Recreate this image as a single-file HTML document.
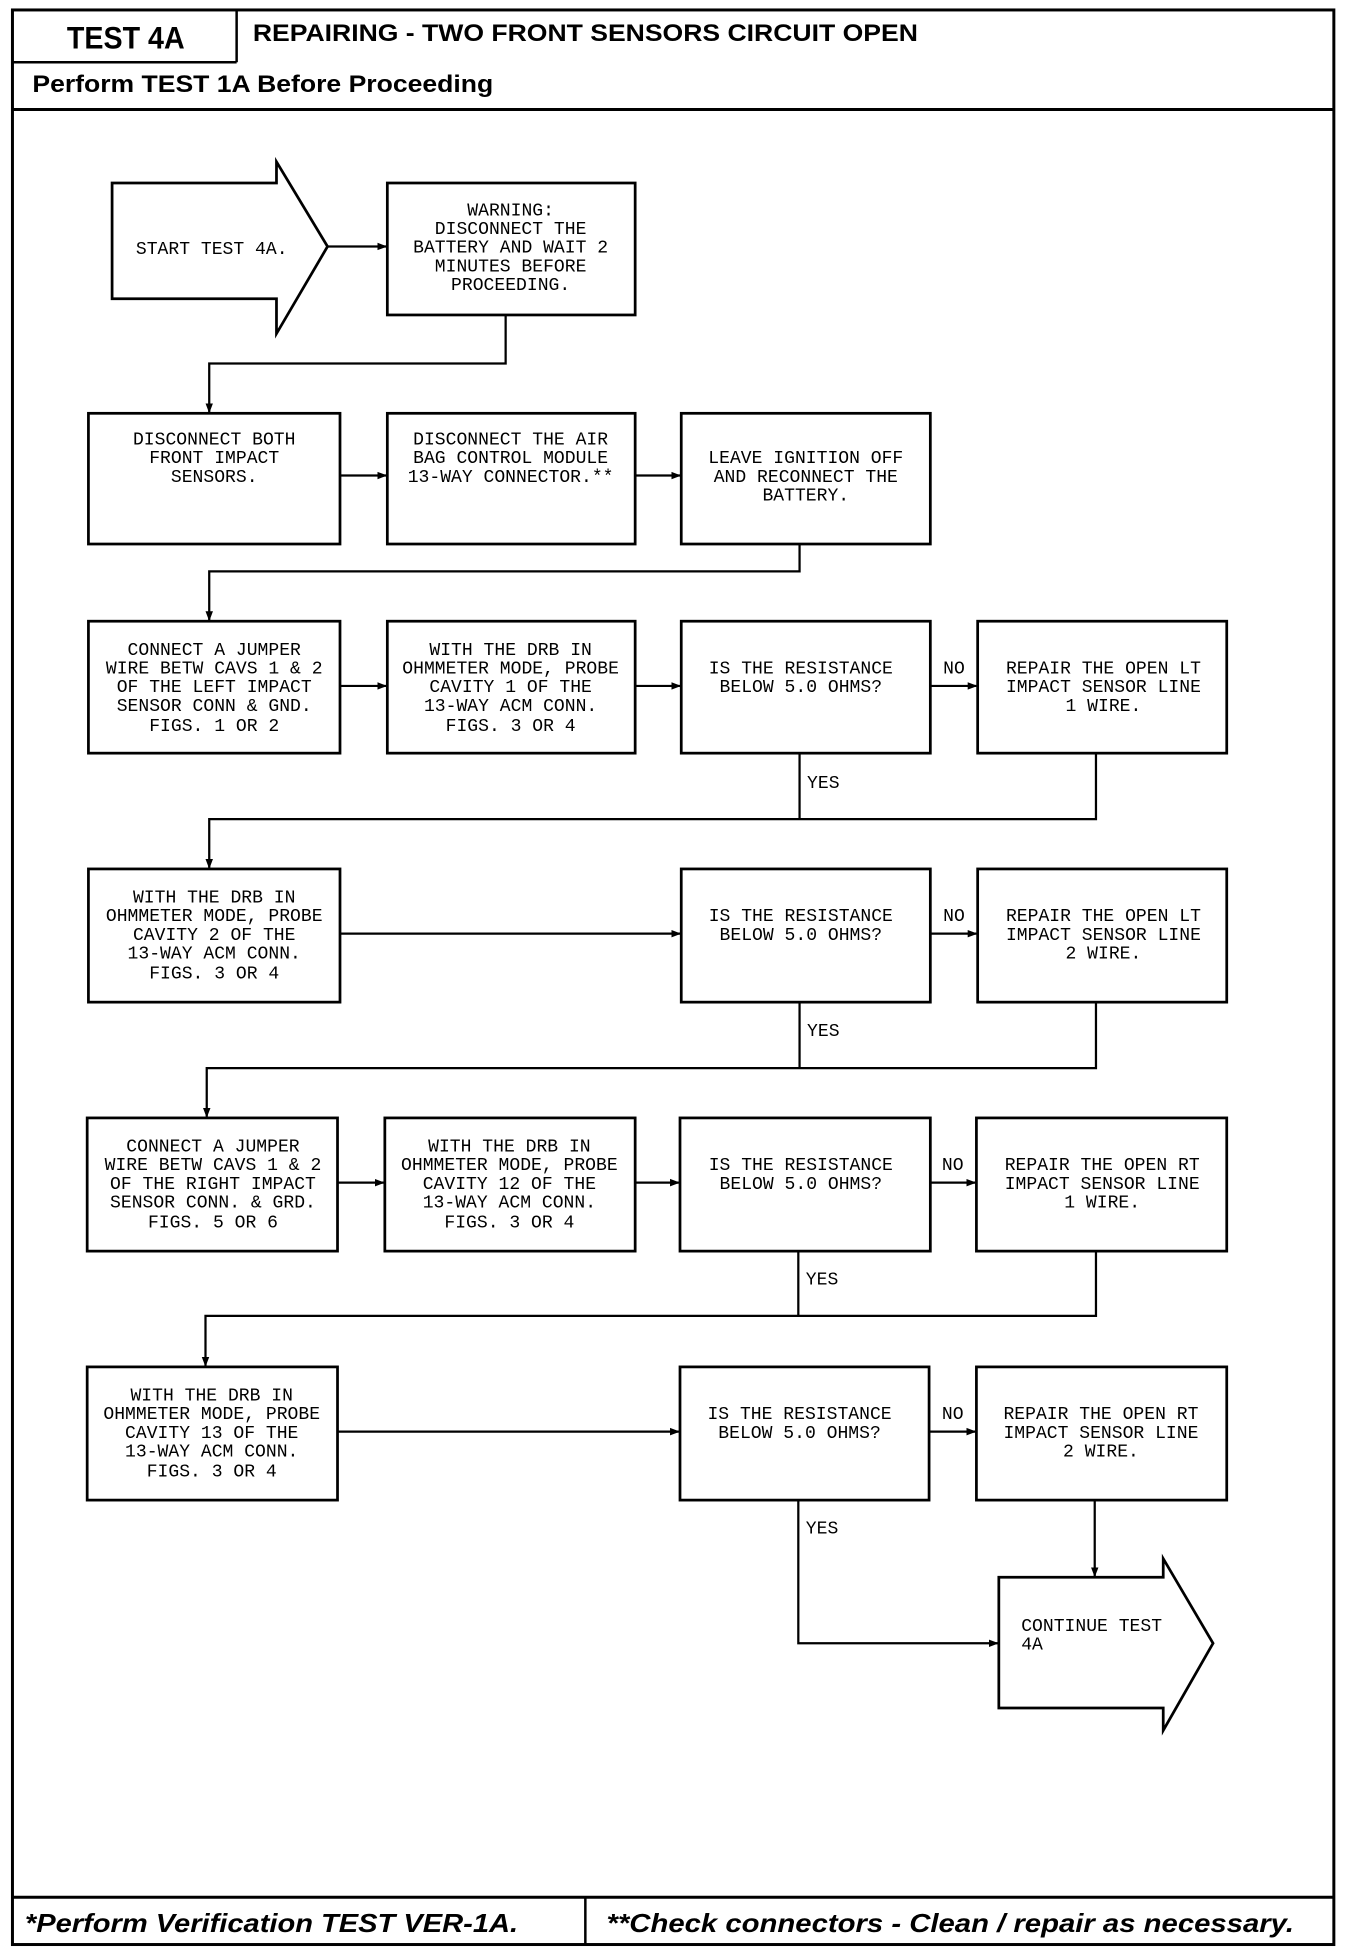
<!DOCTYPE html>
<html><head><meta charset="utf-8"><style>
html,body{margin:0;padding:0;background:#fff;}
svg{display:block;}
.t{font-family:"Liberation Mono",monospace;font-size:14.5px;fill:#000;text-anchor:middle;}
.tl{font-family:"Liberation Mono",monospace;font-size:14.5px;fill:#000;}
.b{fill:#fff;stroke:#000;stroke-width:2.2;}
.l{fill:none;stroke:#000;stroke-width:1.8;}
</style></head><body>
<svg width="1360" height="1952" viewBox="0 0 1092 1568" preserveAspectRatio="none" xmlns="http://www.w3.org/2000/svg">
<defs><marker id="a" markerWidth="8" markerHeight="8" refX="7" refY="4" orient="auto" markerUnits="userSpaceOnUse"><path d="M0,1 L8,4 L0,7 z" fill="#000"/></marker></defs>
<rect x="10" y="8" width="1061" height="1554" fill="none" stroke="#000" stroke-width="2.4"/>
<line x1="190" y1="8" x2="190" y2="50" stroke="#000" stroke-width="2"/>
<line x1="10" y1="50" x2="190" y2="50" stroke="#000" stroke-width="2"/>
<line x1="10" y1="88" x2="1071" y2="88" stroke="#000" stroke-width="2.4"/>
<line x1="10" y1="1524" x2="1071" y2="1524" stroke="#000" stroke-width="2.4"/>
<line x1="470" y1="1524" x2="470" y2="1562" stroke="#000" stroke-width="2"/>
<text x="101" y="39" font-family="Liberation Sans,sans-serif" font-weight="bold" font-size="25" text-anchor="middle" transform="translate(101,0) scale(0.92,1) translate(-101,0)">TEST 4A</text>
<text x="203" y="33" font-family="Liberation Sans,sans-serif" font-weight="bold" font-size="19" textLength="534" lengthAdjust="spacingAndGlyphs">REPAIRING - TWO FRONT SENSORS CIRCUIT OPEN</text>
<text x="26" y="74" font-family="Liberation Sans,sans-serif" font-weight="bold" font-size="19" textLength="370" lengthAdjust="spacingAndGlyphs">Perform TEST 1A Before Proceeding</text>
<text x="20" y="1552" font-family="Liberation Sans,sans-serif" font-weight="bold" font-style="italic" font-size="21" textLength="396" lengthAdjust="spacingAndGlyphs">*Perform Verification TEST VER-1A.</text>
<text x="487" y="1552" font-family="Liberation Sans,sans-serif" font-weight="bold" font-style="italic" font-size="21" textLength="552" lengthAdjust="spacingAndGlyphs">**Check connectors - Clean / repair as necessary.</text>

<polygon class="b" points="90,147 222,147 222,130 263,198 222,268 222,240 90,240"/>
<text class="t" x="170" y="204">START TEST 4A.</text>
<rect class="b" x="311" y="147" width="199" height="106"/>
<text class="t" x="410" y="173">WARNING:</text>
<text class="t" x="410" y="188">DISCONNECT THE</text>
<text class="t" x="410" y="203">BATTERY AND WAIT 2</text>
<text class="t" x="410" y="218">MINUTES BEFORE</text>
<text class="t" x="410" y="233">PROCEEDING.</text>
<line class="l" x1="263" y1="198" x2="310" y2="198" marker-end="url(#a)"/>
<polyline class="l" points="406,253 406,292 168,292 168,331" marker-end="url(#a)"/>

<rect class="b" x="71" y="332" width="202" height="105"/>
<text class="t" x="172" y="357">DISCONNECT BOTH</text>
<text class="t" x="172" y="372">FRONT IMPACT</text>
<text class="t" x="172" y="387">SENSORS.</text>
<rect class="b" x="311" y="332" width="199" height="105"/>
<text class="t" x="410" y="357">DISCONNECT THE AIR</text>
<text class="t" x="410" y="372">BAG CONTROL MODULE</text>
<text class="t" x="410" y="387">13-WAY CONNECTOR.**</text>
<rect class="b" x="547" y="332" width="200" height="105"/>
<text class="t" x="647" y="372">LEAVE IGNITION OFF</text>
<text class="t" x="647" y="387">AND RECONNECT THE</text>
<text class="t" x="647" y="402">BATTERY.</text>
<line class="l" x1="273" y1="382" x2="310" y2="382" marker-end="url(#a)"/>
<line class="l" x1="510" y1="382" x2="546" y2="382" marker-end="url(#a)"/>
<polyline class="l" points="642,437 642,459 168,459 168,498" marker-end="url(#a)"/>

<rect class="b" x="71" y="499" width="202" height="106"/>
<text class="t" x="172" y="526">CONNECT A JUMPER</text>
<text class="t" x="172" y="541">WIRE BETW CAVS 1 &amp; 2</text>
<text class="t" x="172" y="556">OF THE LEFT IMPACT</text>
<text class="t" x="172" y="571">SENSOR CONN &amp; GND.</text>
<text class="t" x="172" y="587">FIGS. 1 OR 2</text>
<rect class="b" x="311" y="499" width="199" height="106"/>
<text class="t" x="410" y="526">WITH THE DRB IN</text>
<text class="t" x="410" y="541">OHMMETER MODE, PROBE</text>
<text class="t" x="410" y="556">CAVITY 1 OF THE</text>
<text class="t" x="410" y="571">13-WAY ACM CONN.</text>
<text class="t" x="410" y="587">FIGS. 3 OR 4</text>
<rect class="b" x="547" y="499" width="200" height="106"/>
<text class="t" x="643" y="541">IS THE RESISTANCE</text>
<text class="t" x="643" y="556">BELOW 5.0 OHMS?</text>
<rect class="b" x="785" y="499" width="200" height="106"/>
<text class="t" x="886" y="541">REPAIR THE OPEN LT</text>
<text class="t" x="886" y="556">IMPACT SENSOR LINE</text>
<text class="t" x="886" y="571">1 WIRE.</text>
<line class="l" x1="273" y1="551" x2="310" y2="551" marker-end="url(#a)"/>
<line class="l" x1="510" y1="551" x2="546" y2="551" marker-end="url(#a)"/>
<line class="l" x1="747" y1="551" x2="784" y2="551" marker-end="url(#a)"/>
<text class="t" x="766" y="541">NO</text>
<text class="tl" x="648" y="633">YES</text>
<polyline class="l" points="642,605 642,658"/>
<polyline class="l" points="880,605 880,658 168,658 168,697" marker-end="url(#a)"/>

<rect class="b" x="71" y="698" width="202" height="107"/>
<text class="t" x="172" y="725">WITH THE DRB IN</text>
<text class="t" x="172" y="740">OHMMETER MODE, PROBE</text>
<text class="t" x="172" y="755">CAVITY 2 OF THE</text>
<text class="t" x="172" y="770">13-WAY ACM CONN.</text>
<text class="t" x="172" y="786">FIGS. 3 OR 4</text>
<rect class="b" x="547" y="698" width="200" height="107"/>
<text class="t" x="643" y="740">IS THE RESISTANCE</text>
<text class="t" x="643" y="755">BELOW 5.0 OHMS?</text>
<rect class="b" x="785" y="698" width="200" height="107"/>
<text class="t" x="886" y="740">REPAIR THE OPEN LT</text>
<text class="t" x="886" y="755">IMPACT SENSOR LINE</text>
<text class="t" x="886" y="770">2 WIRE.</text>
<line class="l" x1="273" y1="750" x2="546" y2="750" marker-end="url(#a)"/>
<line class="l" x1="747" y1="750" x2="784" y2="750" marker-end="url(#a)"/>
<text class="t" x="766" y="740">NO</text>
<text class="tl" x="648" y="832">YES</text>
<polyline class="l" points="642,805 642,858"/>
<polyline class="l" points="880,805 880,858 166,858 166,897" marker-end="url(#a)"/>

<rect class="b" x="70" y="898" width="201" height="107"/>
<text class="t" x="171" y="925">CONNECT A JUMPER</text>
<text class="t" x="171" y="940">WIRE BETW CAVS 1 &amp; 2</text>
<text class="t" x="171" y="955">OF THE RIGHT IMPACT</text>
<text class="t" x="171" y="970">SENSOR CONN. &amp; GRD.</text>
<text class="t" x="171" y="986">FIGS. 5 OR 6</text>
<rect class="b" x="309" y="898" width="201" height="107"/>
<text class="t" x="409" y="925">WITH THE DRB IN</text>
<text class="t" x="409" y="940">OHMMETER MODE, PROBE</text>
<text class="t" x="409" y="955">CAVITY 12 OF THE</text>
<text class="t" x="409" y="970">13-WAY ACM CONN.</text>
<text class="t" x="409" y="986">FIGS. 3 OR 4</text>
<rect class="b" x="546" y="898" width="201" height="107"/>
<text class="t" x="643" y="940">IS THE RESISTANCE</text>
<text class="t" x="643" y="955">BELOW 5.0 OHMS?</text>
<rect class="b" x="784" y="898" width="201" height="107"/>
<text class="t" x="885" y="940">REPAIR THE OPEN RT</text>
<text class="t" x="885" y="955">IMPACT SENSOR LINE</text>
<text class="t" x="885" y="970">1 WIRE.</text>
<line class="l" x1="271" y1="950" x2="308" y2="950" marker-end="url(#a)"/>
<line class="l" x1="510" y1="950" x2="545" y2="950" marker-end="url(#a)"/>
<line class="l" x1="747" y1="950" x2="783" y2="950" marker-end="url(#a)"/>
<text class="t" x="765" y="940">NO</text>
<text class="tl" x="647" y="1032">YES</text>
<polyline class="l" points="641,1005 641,1057"/>
<polyline class="l" points="880,1005 880,1057 165,1057 165,1097" marker-end="url(#a)"/>

<rect class="b" x="70" y="1098" width="201" height="107"/>
<text class="t" x="170" y="1125">WITH THE DRB IN</text>
<text class="t" x="170" y="1140">OHMMETER MODE, PROBE</text>
<text class="t" x="170" y="1155">CAVITY 13 OF THE</text>
<text class="t" x="170" y="1170">13-WAY ACM CONN.</text>
<text class="t" x="170" y="1186">FIGS. 3 OR 4</text>
<rect class="b" x="546" y="1098" width="200" height="107"/>
<text class="t" x="642" y="1140">IS THE RESISTANCE</text>
<text class="t" x="642" y="1155">BELOW 5.0 OHMS?</text>
<rect class="b" x="784" y="1098" width="201" height="107"/>
<text class="t" x="884" y="1140">REPAIR THE OPEN RT</text>
<text class="t" x="884" y="1155">IMPACT SENSOR LINE</text>
<text class="t" x="884" y="1170">2 WIRE.</text>
<line class="l" x1="271" y1="1150" x2="545" y2="1150" marker-end="url(#a)"/>
<line class="l" x1="746" y1="1150" x2="783" y2="1150" marker-end="url(#a)"/>
<text class="t" x="765" y="1140">NO</text>
<text class="tl" x="647" y="1232">YES</text>
<polyline class="l" points="641,1205 641,1320 801,1320" marker-end="url(#a)"/>
<line class="l" x1="879" y1="1205" x2="879" y2="1266" marker-end="url(#a)"/>

<polygon class="b" points="802,1267 934,1267 934,1252 974,1320 934,1390 934,1372 802,1372"/>
<text class="tl" x="820" y="1310">CONTINUE TEST</text>
<text class="tl" x="820" y="1325">4A</text>
</svg>
</body></html>
